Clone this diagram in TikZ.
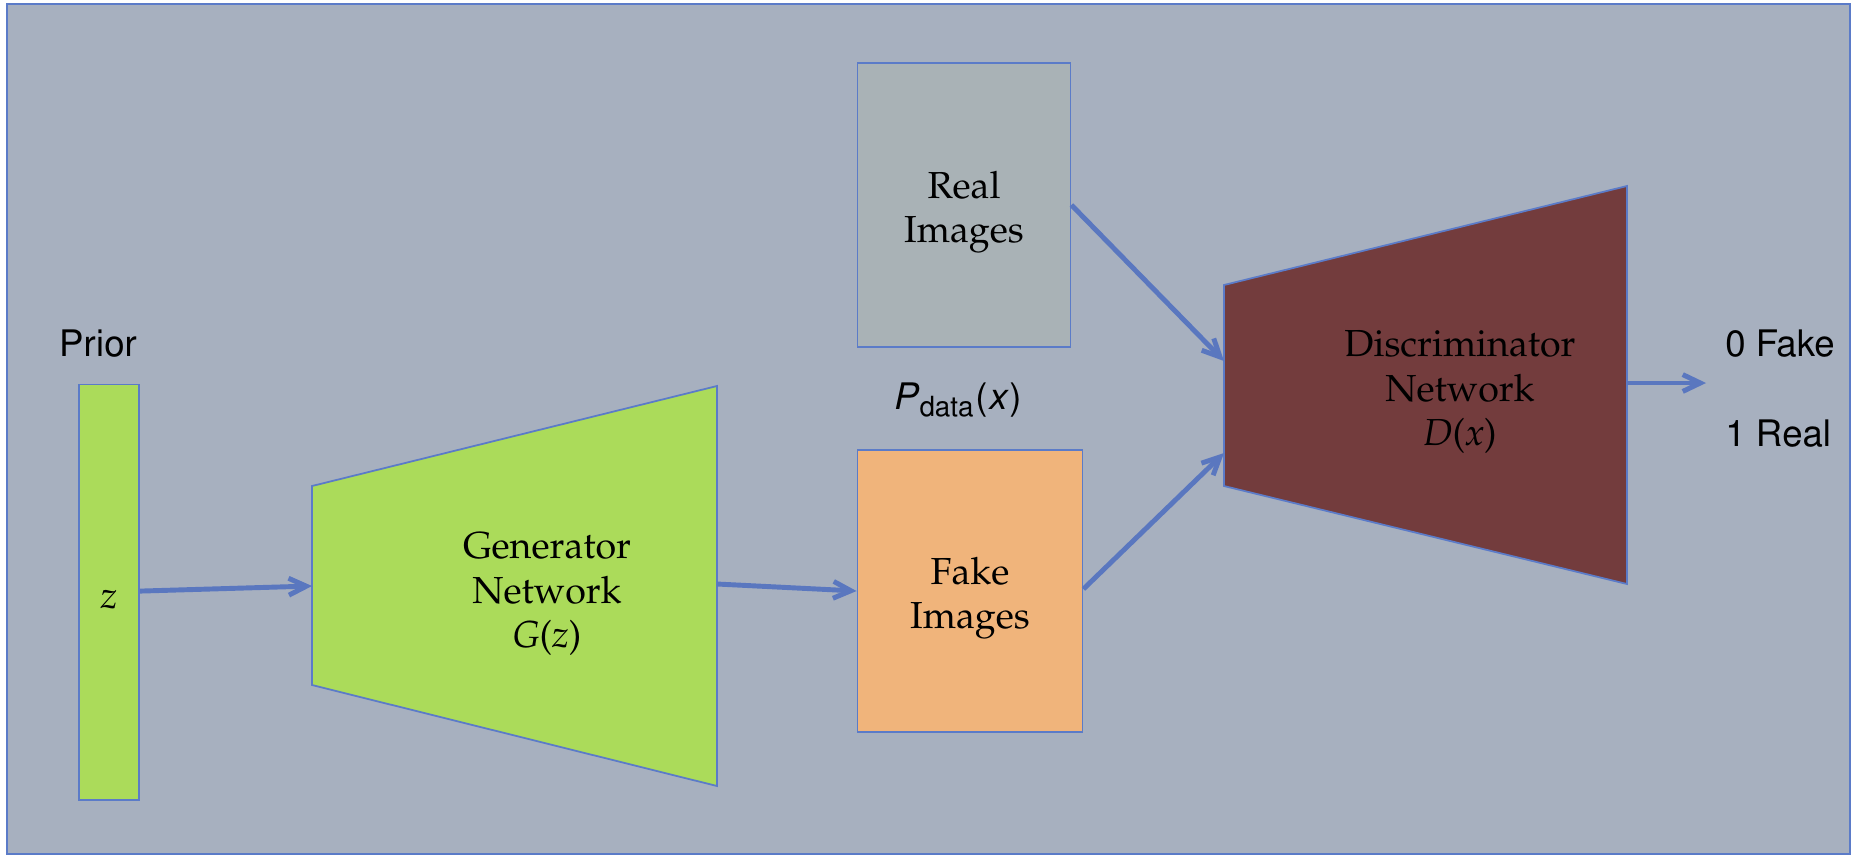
\documentclass[tikz,border=0pt]{standalone}
\usepackage[T1]{fontenc}
\usepackage{mathpazo}
\usepackage{helvet}
\usetikzlibrary{arrows.meta, positioning}

\definecolor{panel}{HTML}{A7B0BF}
\definecolor{edgeblue}{HTML}{5B7BC8}
\definecolor{flowblue}{HTML}{5A77BF}
\definecolor{gengreen}{HTML}{ABDB5A}
\definecolor{realgray}{HTML}{A9B2B6}
\definecolor{fakeorange}{HTML}{F0B47B}
\definecolor{discred}{HTML}{733C3D}

\begin{document}
\begin{tikzpicture}[x=0.01cm, y=-0.01cm,
  >={Straight Barb[length=5pt,width=4.8pt]},
  block node/.style={rectangle,draw=edgeblue,line width=0.5pt,inner sep=0pt},
  net text/.style={align=center,font=\fontsize{10.7}{12.6}\selectfont},
  box text/.style={net text,yshift=-0.07cm},
  side text/.style={font=\sffamily\fontsize{10.4}{12.4}\selectfont},
  flow/.style={->,draw=flowblue,line width=1.4pt}]
  \useasboundingbox (0,0) rectangle (1858,866);
  \draw[fill=panel,draw=edgeblue,line width=0.8pt] (7,4) rectangle (1850,854);

  % prior vector
  \node[block node, fill=gengreen, minimum width=0.6cm, minimum height=4.15cm,
    label={[box text]center:\textit{z}}] (bar) at (109,592) {};
  \node[side text] (prior) at (98,344) {Prior};

  % generator
  \filldraw[fill=gengreen,draw=edgeblue,line width=0.5pt] (312,486) -- (717,386) -- (717,786) -- (312,685) -- cycle;
  \node[net text] (gen) at (547,594) {Generator\\Network\\\textit{G}(\textit{z})};
  \coordinate (gin) at (312,586);
  \coordinate (gout) at (717,584);

  % images
  \node[block node, fill=realgray, minimum width=2.13cm, minimum height=2.84cm,
    label={[box text]center:Real\\Images}] (real) at (964,205) {};
  \node[block node, fill=fakeorange, minimum width=2.25cm, minimum height=2.82cm,
    label={[box text]center:Fake\\Images}] (fake) at (970,591) {};
  \node[side text] (pdata) at (957,400) {\textit{P}\textsubscript{data}(\textit{x})};

  % discriminator
  \filldraw[fill=discred,draw=edgeblue,line width=0.5pt] (1224,285) -- (1627,186) -- (1627,584) -- (1224,486) -- cycle;
  \node[net text] (disc) at (1460,392) {Discriminator\\Network\\\textit{D}(\textit{x})};
  \coordinate (din1) at (1224,361);
  \coordinate (din2) at (1224,453);
  \coordinate (dout) at (1627,383);
  \coordinate (result) at (1706,383);
  \node[side text, anchor=west] (fake out) at (1713,344) {0 Fake};
  \node[side text, anchor=west] (real out) at (1713,434) {1 Real};

  \draw[flow] (bar) -- (gin);
  \draw[flow] (gout) -- (fake.west);
  \draw[flow] (real.east |- 0,205) -- (din1);
  \draw[flow] (fake.east |- 0,589) -- (din2);
  \draw[flow] (dout) -- (result);
\end{tikzpicture}
\end{document}
